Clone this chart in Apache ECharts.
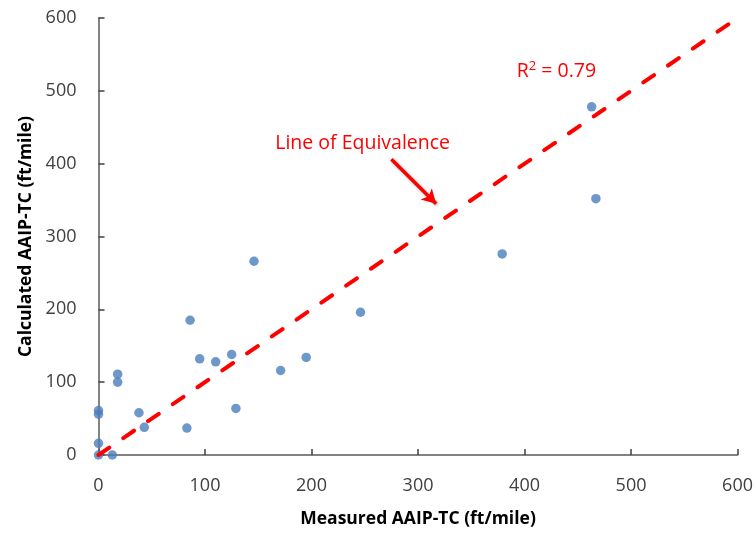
<!DOCTYPE html>
<html>
<head>
<meta charset="utf-8">
<script src="https://cdn.jsdelivr.net/npm/echarts@6/dist/echarts.min.js"></script>
<style>html,body{margin:0;padding:0;background:#fff}#c{width:756px;height:533px}</style>
</head>
<body>
<div id="c"></div>
<script>
const measured   = [0, 13, 0, 0, 0, 18, 18, 38, 43, 83, 86, 95, 110, 125, 129, 146, 171, 195, 246, 379, 463, 467];
const calculated = [0, 0, 16, 61, 56, 111, 100, 58, 38, 37, 185, 132, 128, 138, 64, 266, 116, 134, 196, 276, 478, 352];
const equivLine = [[0, 0], [600, 600]];
const arrowLine = [[275, 406], [317, 345]];
const xTicks = [0, 100, 200, 300, 400, 500, 600];
const yTicks = [0, 100, 200, 300, 400, 500, 600];
const xTitle = 'Measured AAIP-TC (ft/mile)';
const yTitle = 'Calculated AAIP-TC (ft/mile)';
const equivText = 'Line of Equivalence';
const r2Text = '{n|R}{s|2}{n| = 0.79}';

const pts = measured.map((m, i) => [m, calculated[i]]);
const font = 'Open Sans';
const chart = echarts.init(document.getElementById('c'));
const axisCommon = {
  type: 'value', min: 0, max: 600, interval: 100,
  splitLine: { show: false },
  axisLine: { show: true, lineStyle: { color: '#595959', width: 1.5 } },
  axisTick: { show: true, inside: true, length: 6, lineStyle: { color: '#404040', width: 1.5 } },
  axisLabel: { color: '#404040', fontFamily: font, fontSize: 18, margin: 22 },
  nameLocation: 'middle',
  nameTextStyle: { color: '#000', fontFamily: font, fontSize: 17.5, fontWeight: 'bold' }
};
chart.setOption({
  animation: false,
  grid: { left: 98.5, right: 17, top: 18, bottom: 77 },
  xAxis: Object.assign({}, axisCommon, { name: xTitle, nameGap: 55 }),
  yAxis: Object.assign({}, axisCommon, { name: yTitle, nameGap: 62 }),
  series: [
    {
      type: 'line', data: equivLine, symbol: 'none', z: 3,
      lineStyle: { color: '#ff0000', width: 4, type: [13, 17], cap: 'round' }
    },
    {
      type: 'scatter', data: pts, symbolSize: 9.5, clip: false, z: 2,
      itemStyle: { color: '#4a7ebb' }
    },
    {
      type: 'line', data: [], symbol: 'none',
      markLine: {
        silent: true, symbol: ['none', 'arrow'], symbolSize: [12, 14],
        label: { show: false },
        lineStyle: { color: '#ff0000', width: 3.5, type: 'solid', shadowColor: 'rgba(0,0,0,0.35)', shadowBlur: 3, shadowOffsetX: 1, shadowOffsetY: 1 },
        data: [[{ coord: arrowLine[0] }, { coord: arrowLine[1] }]]
      }
    }
  ]
});
const p1 = chart.convertToPixel({ gridIndex: 0 }, [248, 428]);
const p2 = chart.convertToPixel({ gridIndex: 0 }, [430, 526]);
chart.setOption({
  graphic: [
    { type: 'text', x: p1[0], y: p1[1], style: { text: equivText, fill: '#ff0000', font: '19.5px "' + font + '"', align: 'center', verticalAlign: 'middle' } },
    { type: 'text', x: p2[0], y: p2[1], style: {
        text: r2Text, fill: '#ff0000', align: 'center', verticalAlign: 'middle',
        rich: {
          n: { fontFamily: font, fontSize: 19.5, fill: '#ff0000', lineHeight: 24 },
          s: { fontFamily: font, fontSize: 13, fill: '#ff0000', lineHeight: 24, verticalAlign: 'top', padding: [0, 0, 8, 0] }
        }
      } }
  ]
});
</script>
</body>
</html>
